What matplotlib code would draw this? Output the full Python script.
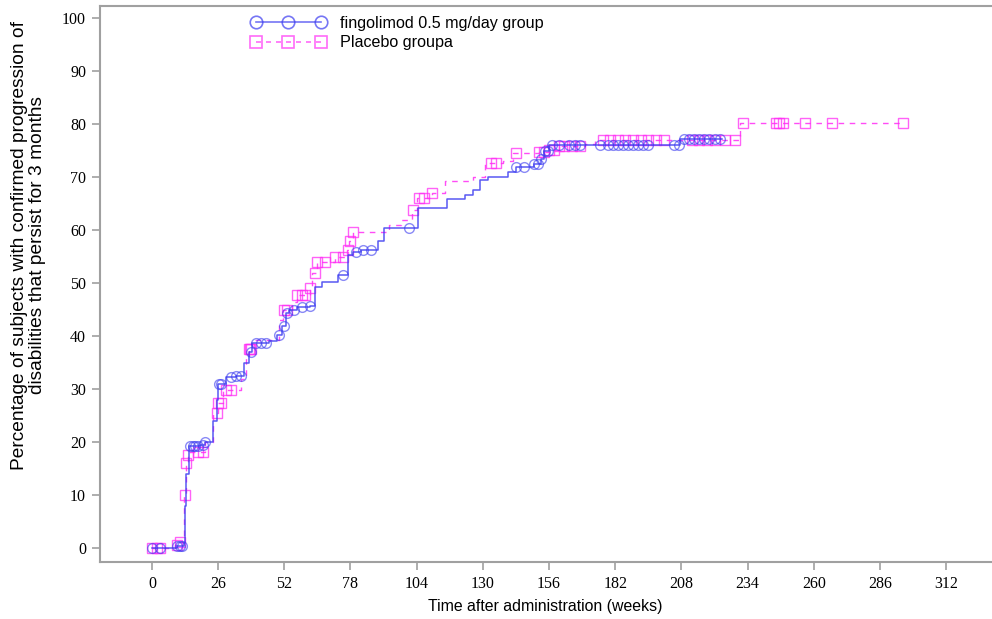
import numpy as np
import matplotlib
matplotlib.use("Agg")
import matplotlib.pyplot as plt

# fingolimod 0.5 mg/day: step curve (weeks, %)
fin_t = [0, 10, 12.5, 13, 13.5, 14.5, 19, 21, 24, 25.5, 26, 29, 33, 36, 38, 39.5, 42,
         46, 49, 51, 52.5, 54, 57, 62, 64, 67, 73, 77, 79, 82, 89, 91, 104.5, 116,
         123, 126, 129, 132, 140, 143, 150, 153, 154, 156, 207.5, 224]
fin_s = [0, 0.4, 1, 8, 14, 19.3, 19.5, 20, 24, 28, 31, 32.2, 32.5, 35, 37, 38.7, 38.7,
         39, 40.2, 42, 44.3, 45, 45.5, 45.7, 49.3, 50.2, 51.5, 55.3, 55.8, 56.2, 58, 60.5, 64.1, 65.8,
         66.6, 67.5, 69.4, 70, 71, 72, 72.5, 73.5, 75, 76, 77.2, 77.2]
fin_cens = [0, 3, 10, 11, 12, 15, 16, 17, 18, 20, 21, 26.5, 27, 31, 33, 35, 39, 41, 43, 45,
            50, 52, 53, 56, 59, 62, 75, 80, 83, 86, 101, 143, 146, 150, 151.5, 153, 154.5,
            155.5, 157, 160, 164, 166, 168, 176, 179, 181, 183, 185, 187, 189, 191, 193,
            195, 205, 207, 209, 211, 213, 215, 217, 219, 221, 223]

# placebo: step curve (weeks, %)
pla_t = [0, 9, 11, 12.5, 13.5, 14, 15, 21, 24, 26, 28, 35, 37, 38, 39.5, 50, 51.5, 55, 57,
         62, 63, 65, 72, 76.5, 77.5, 79, 93, 98, 102, 104, 110, 115, 126, 131, 138, 142,
         152, 156, 160, 170, 174, 231, 295]
pla_s = [0, 0.6, 1.2, 10, 16, 17.5, 18.2, 20, 25.4, 27.3, 29.8, 32, 36, 37.5, 39.2, 43,
         45, 46.5, 47.7, 49, 51.9, 54, 55, 56.2, 58, 59.6, 61, 62, 63.8, 66, 67, 69.2, 70,
         72.7, 73, 74.5, 74.7, 75.2, 75.8, 76.2, 77, 80.3, 80.3]
pla_cens = [0, 2, 3, 10, 11, 12.8, 13.5, 14, 18, 20, 25.5, 26, 27, 29, 31, 38, 38.5, 39,
            52, 53, 57, 59, 60, 62, 64, 65, 68, 72, 75, 77, 78, 79, 102.6, 105, 107, 110,
            133, 135, 143, 152, 154, 156, 158, 160, 162, 165, 168, 177, 180, 183, 186, 189,
            192, 195, 198, 201, 212, 215, 218, 221, 225, 229, 232, 245, 246.5, 248, 256.5,
            267, 295]

xticks = [0, 26, 52, 78, 104, 130, 156, 182, 208, 234, 260, 286, 312]
yticks = [0, 10, 20, 30, 40, 50, 60, 70, 80, 90, 100]


def step_at(t, times, vals):
    idx = np.searchsorted(times, t, side='right') - 1
    return np.asarray(vals)[np.clip(idx, 0, len(vals) - 1)]


blue = '#3c3cf0'
mag = '#ff2df5'

fig = plt.figure(figsize=(9.92, 6.19), dpi=100)
ax = fig.add_axes([0.1008, 0.0921, 0.8992, 0.898])

ax.plot(pla_t, pla_s, drawstyle='steps-post', color=mag, lw=1.0,
        dashes=(4, 4), alpha=0.85)
ax.plot(pla_cens, step_at(pla_cens, pla_t, pla_s), ls='none', marker='s', ms=6.5,
        mfc='none', mec=mag, mew=1.0, alpha=0.75)
ax.plot(fin_t, fin_s, drawstyle='steps-post', color=blue, lw=1.1, alpha=0.85)
ax.plot(fin_cens, step_at(fin_cens, fin_t, fin_s), ls='none', marker='o', ms=7,
        mfc='none', mec=blue, mew=1.0, alpha=0.6)

# legend proxies
h1, = ax.plot([], [], color=blue, lw=1.2, marker='o', ms=9, mfc='none', mew=1.2, alpha=0.7)
h2, = ax.plot([], [], color=mag, lw=1.2, dashes=(3, 3), marker='s', ms=9, mfc='none',
              mew=1.2, alpha=0.7)
fig.legend([h1, h2], ['fingolimod 0.5 mg/day group', 'Placebo groupa'],
           loc='upper left', bbox_to_anchor=(0.242, 0.993), frameon=False,
           numpoints=3, handlelength=4.6, handletextpad=0.9, borderpad=0.2,
           labelspacing=0.3, prop={'family': 'Liberation Sans', 'size': 11.6})

ax.set_xlim(-20.4, 330)
ax.set_ylim(-2.64, 102.3)
ax.set_xticks(xticks)
ax.set_yticks(yticks)
for lab in ax.get_xticklabels() + ax.get_yticklabels():
    lab.set_family('Liberation Serif')
    lab.set_fontsize(11.5)

for s in ['left', 'top', 'bottom']:
    ax.spines[s].set_color('#a0a0a0')
    ax.spines[s].set_linewidth(1.5)
ax.spines['right'].set_visible(False)
ax.tick_params(colors='#a0a0a0', labelcolor='black', length=6, width=1.2, pad=4)

ax.set_xlabel('Time after administration (weeks)', family='Liberation Sans', fontsize=11.4)
ax.set_ylabel('Percentage of subjects with confirmed progression of\n'
              'disabilities that persist for 3 months', family='Liberation Sans', fontsize=13.8,
              linespacing=1.05)
ax.xaxis.set_label_coords(0.499, -0.066)
ax.yaxis.set_label_coords(-0.061, 0.57)

fig.savefig('out.png', dpi=100)
